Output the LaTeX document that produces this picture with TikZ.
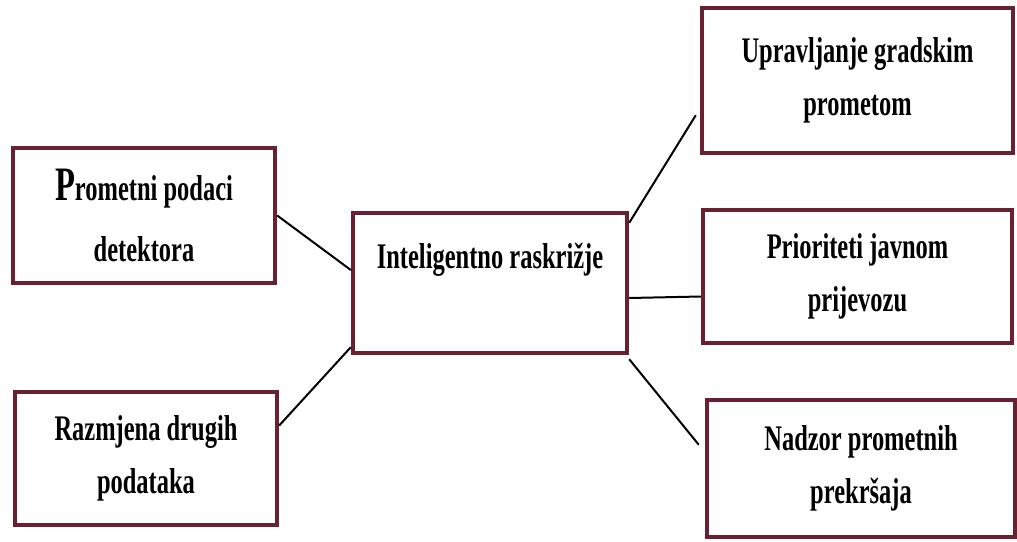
\documentclass[tikz,border=0pt]{standalone}
\usepackage{fontspec}
\usepackage{tikz}
\newfontfamily\boxfont[FakeStretch=0.68]{Liberation Serif}
\definecolor{boxred}{RGB}{105,32,48}
\tikzset{
  x=0.5pt, y=-0.5pt,
}
\tikzstyle{block}=[draw=boxred,line width=2.2pt,fill=white,align=center,
  font=\boxfont\bfseries\fontsize{18}{26.5}\selectfont]
\tikzstyle{link}=[line width=1pt,black]

\begin{document}
\begin{tikzpicture}
    \useasboundingbox (0,0) rectangle (1017,541);
    \node[block,minimum width=131pt,minimum height=67.5pt] (det) at (144,215.5)
      {{\fontsize{24}{24}\selectfont P}rometni podaci\\[4pt] detektora};
    \node[block,minimum width=131pt,minimum height=66.5pt] (raz) at (146,458.5)
      {Razmjena drugih\\ podataka};
    \node[block,minimum width=137pt,minimum height=70pt,text height=13pt,text depth=28pt]
      (ras) at (490,283) {Inteligentno raskrižje};
    \node[block,minimum width=155.5pt,minimum height=72.5pt] (upr) at (857.5,80.5)
      {Upravljanje gradskim\\ prometom};
    \node[block,minimum width=154.5pt,minimum height=66.5pt] (pri) at (857.5,276.5)
      {Prioriteti javnom\\ prijevozu};
    \node[block,minimum width=154pt,minimum height=68.5pt] (nad) at (861,468.5)
      {Nadzor prometnih\\ prekršaja};
    \draw[link] (det.east) -- ([yshift=6.5pt]ras.west);
    \draw[link] ([yshift=16.5pt]raz.east) -- ([yshift=4pt]ras.south west);
    \draw[link] ([yshift=-6pt]ras.north east) -- ([yshift=20pt,xshift=-2pt]upr.south west);
    \draw[link] ([yshift=-7.5pt]ras.east) -- ([yshift=-10pt]pri.west);
    \draw[link] ([yshift=-2pt]ras.south east) -- ([yshift=-23.5pt,xshift=-3pt]nad.north west);
  \end{tikzpicture}
\end{document}
